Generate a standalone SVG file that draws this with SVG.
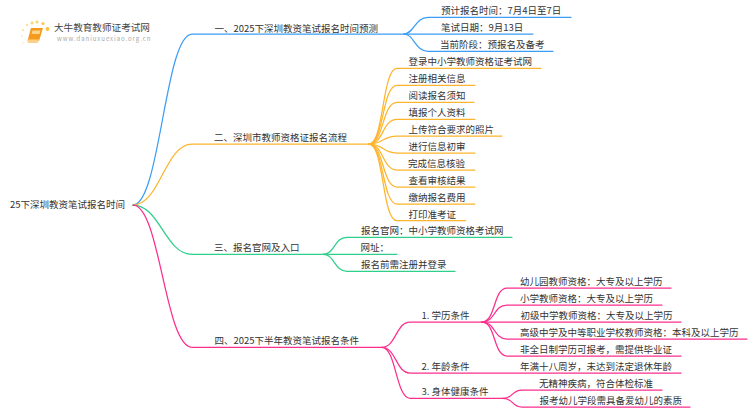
<svg xmlns="http://www.w3.org/2000/svg" width="750" height="410" viewBox="0 0 750 410">
<style>
text{font-family:"Noto Sans CJK SC","Noto Sans",sans-serif;font-size:9.5px;fill:#333}
.c{fill:none;stroke-width:1.25;stroke-linecap:round}
.b{stroke:#3d9df5}.o{stroke:#fdb52d}.g{stroke:#2dcf8b}.p{stroke:#fb2f8d}
</style>
<rect width="750" height="410" fill="#fff"/>
<g id="logo">
<circle cx="37" cy="22" r="1.5" fill="#fbd36b"/><circle cx="32" cy="23" r="1.4" fill="#fbd36b"/><circle cx="43" cy="23.500" r="1.6" fill="#fcc64c"/><circle cx="47.500" cy="29" r="2" fill="#fbc23f"/><circle cx="27" cy="25" r="1.2" fill="#fde29a"/><circle cx="23" cy="30" r="1.1" fill="#fde29a"/><circle cx="22" cy="36" r="1" fill="#feedc0"/><circle cx="23" cy="43" r="0.9" fill="#feedc0"/>
<path d="M31 28H43L39 41H27.500Z" fill="#f59a1c"/><path d="M32.500 30.500H40.500L39.500 34H31.500Z" fill="#fcd58c"/><path d="M27.500 39.500H39L37.500 43H28Z" fill="#fbd08a"/>
<text x="54" y="31" style="font-size:9.6px;fill:#444">大牛教育教师证考试网</text>
<text x="57" y="41" style="font-size:6px;letter-spacing:.95px;fill:#aaa">www.daniuxuexiao.org.cn</text>
</g>
<g id="connectors">
<path class="c b" d="M133 205C160 205 165 34 192 34H404"/>
<path class="c o" d="M133 205C160 205 165 144 192 144H369"/>
<path class="c g" d="M133 205C160 205 165 254.300 192 254.300H323"/>
<path class="c p" d="M133 205C160 205 165 347.300 192 347.300H382"/>
<path class="c b" d="M404 34C414 34 415 17.300 428 17.300H571"/>
<path class="c b" d="M404 34H533"/>
<path class="c b" d="M404 34C414 34 415 51.300 428 51.300H553"/>
<path class="c o" d="M369 144C384 144 382 68.300 397 68.300H541"/>
<path class="c o" d="M369 144C384 144 382 85.300 397 85.300H475"/>
<path class="c o" d="M369 144C384 144 382 102.300 397 102.300H474"/>
<path class="c o" d="M369 144C384 144 382 119.300 397 119.300H475"/>
<path class="c o" d="M369 144C384 144 382 136 397 136H502"/>
<path class="c o" d="M369 144C384 144 382 153 397 153H475"/>
<path class="c o" d="M369 144C384 144 382 170 397 170H475"/>
<path class="c o" d="M369 144C384 144 382 187 397 187H475"/>
<path class="c o" d="M369 144C384 144 382 204 397 204H475"/>
<path class="c o" d="M369 144C384 144 382 220.700 397 220.700H465.500"/>
<path class="c g" d="M323 254.300C335 254.300 334 237.300 347 237.300H512"/>
<path class="c g" d="M323 254.300H397"/>
<path class="c g" d="M323 254.300C335 254.300 334 271.300 347 271.300H455"/>
<path class="c p" d="M382 347.300C396 347.300 396 322 410 322H482"/>
<path class="c p" d="M382 347.300C396 347.300 396 373 410 373H681"/>
<path class="c p" d="M382 347.300C396 347.300 396 398.300 410 398.300H503"/>
<path class="c p" d="M482 322C496 322 493 288 507 288H671"/>
<path class="c p" d="M482 322C496 322 493 305 507 305H662"/>
<path class="c p" d="M482 322H681"/>
<path class="c p" d="M482 322C496 322 493 339 507 339H747"/>
<path class="c p" d="M482 322C496 322 493 356 507 356H681"/>
<path class="c p" d="M503 398.300C514 398.300 511 390 522 390H662"/>
<path class="c p" d="M503 398.300C514 398.300 511 407 522 407H690"/>
</g>
<g id="root"><text x="10" y="208">25下深圳教资笔试报名时间</text></g>
<g id="n1"><text x="214.500" y="31.500">一、2025下深圳教资笔试报名时间预测</text></g>
<g id="n1-1"><text x="441" y="14">预计报名时间：7月4日至7日</text></g>
<g id="n1-2"><text x="441" y="31">笔试日期：9月13日</text></g>
<g id="n1-3"><text x="440" y="48">当前阶段：预报名及备考</text></g>
<g id="n2"><text x="214" y="141">二、深圳市教师资格证报名流程</text></g>
<g id="n2-1"><text x="408.500" y="65">登录中小学教师资格证考试网</text></g>
<g id="n2-2"><text x="408.500" y="82">注册相关信息</text></g>
<g id="n2-3"><text x="408.500" y="99">阅读报名须知</text></g>
<g id="n2-4"><text x="408.500" y="116">填报个人资料</text></g>
<g id="n2-5"><text x="408.500" y="133">上传符合要求的照片</text></g>
<g id="n2-6"><text x="408.500" y="150">进行信息初审</text></g>
<g id="n2-7"><text x="408" y="167">完成信息核验</text></g>
<g id="n2-8"><text x="408.500" y="184">查看审核结果</text></g>
<g id="n2-9"><text x="408.500" y="201">缴纳报名费用</text></g>
<g id="n2-10"><text x="408.500" y="217.500">打印准考证</text></g>
<g id="n3"><text x="214" y="251">三、报名官网及入口</text></g>
<g id="n3-1"><text x="361" y="234">报名官网：中小学教师资格考试网</text></g>
<g id="n3-2"><text x="360.500" y="251">网址：</text></g>
<g id="n3-3"><text x="361" y="268">报名前需注册并登录</text></g>
<g id="n4"><text x="214.500" y="344">四、2025下半年教资笔试报名条件</text></g>
<g id="n4-1"><text x="421.500" y="318.500">1. 学历条件</text></g>
<g id="n4-1-1"><text x="520" y="285">幼儿园教师资格：大专及以上学历</text></g>
<g id="n4-1-2"><text x="520" y="302">小学教师资格：大专及以上学历</text></g>
<g id="n4-1-3"><text x="520.500" y="319">初级中学教师资格：大专及以上学历</text></g>
<g id="n4-1-4"><text x="520" y="336">高级中学及中等职业学校教师资格：本科及以上学历</text></g>
<g id="n4-1-5"><text x="520" y="353">非全日制学历可报考，需提供毕业证</text></g>
<g id="n4-2"><text x="421.500" y="369.500">2. 年龄条件</text></g>
<g id="n4-2-1"><text x="520" y="369.500">年满十八周岁，未达到法定退休年龄</text></g>
<g id="n4-3"><text x="421.500" y="395">3. 身体健康条件</text></g>
<g id="n4-3-1"><text x="539" y="386.500">无精神疾病，符合体检标准</text></g>
<g id="n4-3-2"><text x="539.500" y="403.500">报考幼儿学段需具备爱幼儿的素质</text></g>
</svg>
